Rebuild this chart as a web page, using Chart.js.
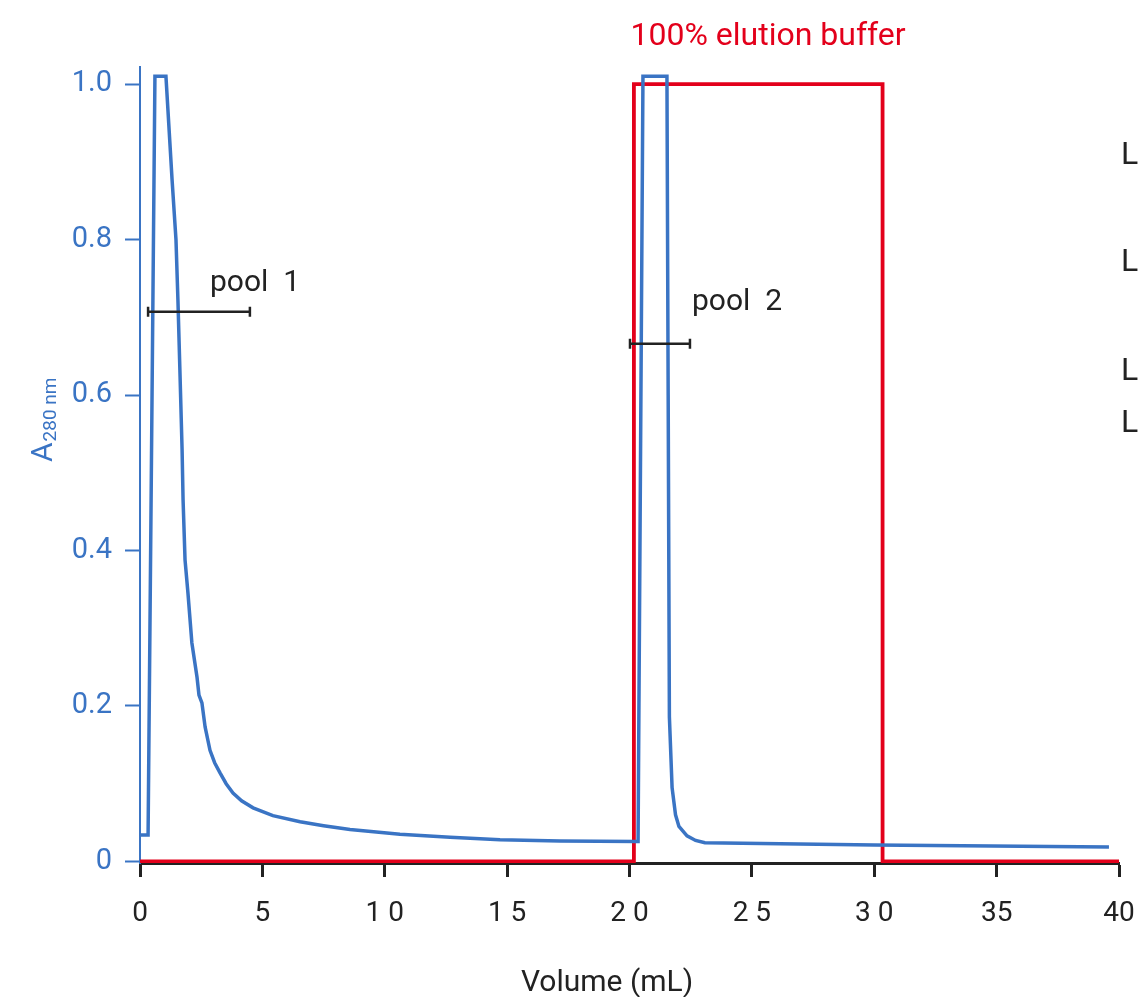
<!DOCTYPE html>
<html>
<head>
<meta charset="utf-8">
<script src="https://cdn.jsdelivr.net/npm/chart.js@4.4.1/dist/chart.umd.min.js"></script>
<style>
  html, body { margin: 0; padding: 0; background: #fff; }
  canvas { display: block; }
</style>
</head>
<body>
<canvas id="elutionChart" width="1138" height="997"></canvas>
<script>
// chromatogram: A280 trace (blue) and % elution buffer (red)
const volume = [0, 0.33, 0.61, 1.06, 1.31, 1.47, 1.55, 1.63, 1.72, 1.76, 1.84, 1.96, 2.12, 2.33, 2.41, 2.53, 2.66, 2.86,
  3.05, 3.27, 3.52, 3.80, 4.15, 4.62, 5.43, 6.54, 7.5, 8.58, 10.62, 12.67, 14.71, 17.16, 20.27, 20.35, 20.55, 21.53,
  21.58, 21.63, 21.74, 21.88, 22.02, 22.35, 22.7, 23.08, 30.0, 39.59];
const a280 = [0.034, 0.034, 1.01, 1.01, 0.877, 0.80, 0.722, 0.632, 0.529, 0.465, 0.388, 0.345, 0.281, 0.237, 0.214,
  0.204, 0.173, 0.143, 0.127, 0.114, 0.100, 0.088, 0.078, 0.069, 0.059, 0.051, 0.046, 0.041, 0.035, 0.031, 0.028,
  0.0262, 0.0257, 0.0257, 1.01, 1.01, 0.60, 0.186, 0.095, 0.060, 0.045, 0.033, 0.027, 0.024, 0.0212, 0.0187];

const bufferVolume = [0, 20.18, 20.18, 30.34, 30.34, 40];
const bufferLevel = [0, 0, 1.0, 1.0, 0, 0];

const xTickValues = [0, 5, 10, 15, 20, 25, 30, 35, 40];
const xTickLabels = ['0', '5', '1 0', '1 5', '2 0', '2 5', '3 0', '35', '40'];
const yTickValues = [0, 0.2, 0.4, 0.6, 0.8, 1.0];
const yTickLabels = ['0', '0.2', '0.4', '0.6', '0.8', '1.0'];

// pooled fractions: [start, end, level]
const pool1 = [0.33, 4.49, 0.707];
const pool2 = [20.02, 22.47, 0.666];

const BLUE = '#3a74c4';
const RED = '#e3001b';
const INK = '#222222';

var annotations = {
  id: 'annotations',
  afterDraw(chart) {
    const ctx = chart.ctx;
    const xs = chart.scales.x, ys = chart.scales.y;
    ctx.save();

    // pool bars
    ctx.strokeStyle = INK;
    ctx.lineWidth = 2.5;
    [pool1, pool2].forEach(p => {
      const x1 = xs.getPixelForValue(p[0]), x2 = xs.getPixelForValue(p[1]), y = ys.getPixelForValue(p[2]);
      ctx.beginPath();
      ctx.moveTo(x1, y); ctx.lineTo(x2, y);
      ctx.moveTo(x1, y - 5); ctx.lineTo(x1, y + 5);
      ctx.moveTo(x2, y - 5); ctx.lineTo(x2, y + 5);
      ctx.stroke();
    });

    ctx.fillStyle = INK;
    ctx.font = '30px Roboto';
    ctx.textBaseline = 'middle';
    ctx.textAlign = 'left';
    ctx.fillText('pool  1', 210, 283);
    ctx.fillText('pool  2', 692, 302);

    ctx.fillStyle = RED;
    ctx.font = '32px Roboto';
    ctx.textAlign = 'center';
    ctx.fillText('100% elution buffer', 768, 37);

    ctx.fillStyle = INK;
    ctx.font = '30px Roboto';
    ctx.fillText('Volume (mL)', 607, 983);

    // cut-off labels at the right edge
    ctx.font = '32px Roboto';
    ctx.textAlign = 'left';
    [156, 263, 372, 424].forEach(y => ctx.fillText('L', 1121, y));

    // y title with subscript
    ctx.translate(52, 462);
    ctx.rotate(-Math.PI / 2);
    ctx.fillStyle = BLUE;
    ctx.textAlign = 'left';
    ctx.textBaseline = 'alphabetic';
    ctx.font = '30px Roboto';
    ctx.fillText('A', 0, 0);
    const wA = ctx.measureText('A').width;
    ctx.font = '19px Roboto';
    ctx.fillText('280 nm', wA + 1, 4);
    ctx.restore();
  }
};

var chart = new Chart(document.getElementById('elutionChart'), {
  type: 'line',
  data: {
    datasets: [
      {
        label: 'A280',
        data: volume.map((v, i) => ({ x: v, y: a280[i] })),
        borderColor: BLUE,
        borderWidth: 3.5,
        pointRadius: 0,
        tension: 0,
        fill: false
      },
      {
        label: '% elution buffer',
        data: bufferVolume.map((v, i) => ({ x: v, y: bufferLevel[i] })),
        borderColor: RED,
        borderWidth: 3.8,
        pointRadius: 0,
        tension: 0,
        fill: false
      }
    ]
  },
  options: {
    responsive: false,
    animation: false,
    devicePixelRatio: 1,
    layout: { padding: { top: 67, right: 19, left: 0, bottom: 0 } },
    plugins: { legend: { display: false }, tooltip: { enabled: false } },
    scales: {
      x: {
        type: 'linear',
        min: 0,
        max: 40,
        afterBuildTicks: s => { s.ticks = xTickValues.map(v => ({ value: v })); },
        afterFit: s => { s.height = 134; s.paddingLeft = 0; s.paddingRight = 0; },
        border: { color: INK, width: 3 },
        grid: { drawOnChartArea: false, tickLength: 14, tickWidth: 3, tickColor: INK },
        ticks: {
          color: INK,
          font: { family: 'Roboto', size: 28 },
          padding: 20,
          maxRotation: 0,
          callback: v => xTickLabels[xTickValues.indexOf(v)]
        }
      },
      y: {
        type: 'linear',
        min: -0.002,
        max: 1.022,
        afterBuildTicks: s => { s.ticks = yTickValues.map(v => ({ value: v })); },
        afterFit: s => { s.width = 140; s.paddingTop = 0; s.paddingBottom = 0; },
        border: { color: BLUE, width: 2 },
        grid: { drawOnChartArea: false, tickLength: 15, tickWidth: 2, tickColor: BLUE },
        ticks: {
          color: BLUE,
          font: { family: 'Roboto', size: 29 },
          padding: 13,
          callback: v => yTickLabels[yTickValues.indexOf(v)]
        }
      }
    }
  },
  plugins: [annotations]
});
</script>
</body>
</html>
